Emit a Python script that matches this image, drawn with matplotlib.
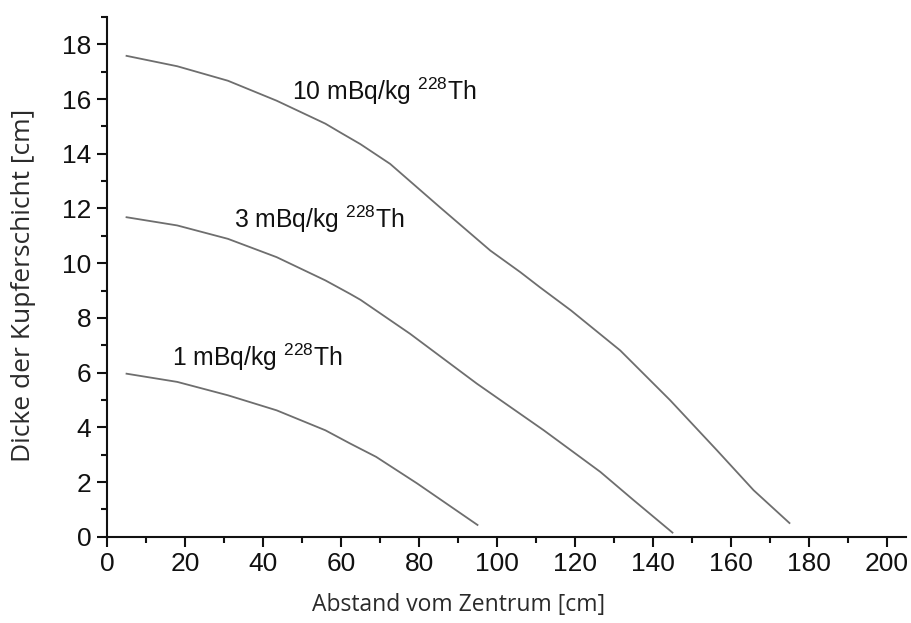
import matplotlib
matplotlib.use('Agg')
import matplotlib.pyplot as plt
from matplotlib.ticker import MultipleLocator

# Kurven: Abstand [cm] -> Dicke der Kupferschicht [cm]
x_10 = [5, 18, 31, 43.5, 56, 59.8, 65, 72.6, 85.4, 98.3, 106, 111, 119, 131.6, 144.4, 156.4, 165.8, 175]
y_10 = [17.58, 17.2, 16.67, 15.94, 15.1, 14.78, 14.35, 13.63, 12.04, 10.46, 9.67, 9.12, 8.27, 6.81, 4.99, 3.16, 1.70, 0.5]

x_3 = [5, 18, 31, 43.5, 56, 62.3, 65, 77.7, 94.8, 112, 126.5, 135, 145]
y_3 = [11.68, 11.38, 10.89, 10.22, 9.37, 8.88, 8.66, 7.42, 5.6, 3.89, 2.37, 1.34, 0.15]

x_1 = [5, 18, 31, 43.5, 56, 62.3, 69, 79.5, 95]
y_1 = [5.96, 5.66, 5.17, 4.62, 3.89, 3.41, 2.92, 1.95, 0.43]

labels = [r'10 mBq/kg $^{228}$Th', r'3 mBq/kg $^{228}$Th', r'1 mBq/kg $^{228}$Th']
label_pos = [(47.5, 16.3), (32.6, 11.6), (16.6, 6.57)]

plt.rcParams['font.family'] = ['Liberation Sans', 'DejaVu Sans']
plt.rcParams['mathtext.fontset'] = 'custom'
plt.rcParams['mathtext.rm'] = 'Liberation Sans'
plt.rcParams['mathtext.it'] = 'Liberation Sans'

fig = plt.figure(figsize=(9.11, 6.23), dpi=100)
ax = fig.add_axes([0.1175, 0.1385, 0.8775, 0.8342])

line_col = '#6e6e6e'
ax.plot(x_10, y_10, color=line_col, lw=1.3)
ax.plot(x_3, y_3, color=line_col, lw=1.3)
ax.plot(x_1, y_1, color=line_col, lw=1.3)

for txt, (tx, ty) in zip(labels, label_pos):
    ax.text(tx, ty, txt, fontsize=17.8, ha='left', va='center', color='#111111')

ax.set_xlim(0, 205)
ax.set_ylim(0, 19)
ax.xaxis.set_major_locator(MultipleLocator(20))
ax.xaxis.set_minor_locator(MultipleLocator(10))
ax.yaxis.set_major_locator(MultipleLocator(2))
ax.yaxis.set_minor_locator(MultipleLocator(1))

for s in ['top', 'right']:
    ax.spines[s].set_visible(False)
for s in ['left', 'bottom']:
    ax.spines[s].set_linewidth(1.5)
    ax.spines[s].set_color('#111111')

ax.tick_params(which='major', direction='out', length=7.2, width=1.5, labelsize=19, pad=4, colors='#111111')
ax.tick_params(which='minor', direction='out', length=4.3, width=1.5, colors='#111111')

ax.set_xlabel('Abstand vom Zentrum [cm]', fontsize=16.5, family='Open Sans', color='#2a2a2a', va='center')
ax.set_ylabel('Dicke der Kupferschicht [cm]', fontsize=19, family='Open Sans', color='#2a2a2a', va='center')
ax.xaxis.set_label_coords(0.44, -0.131)
ax.yaxis.set_label_coords(-0.105, 0.484)

fig.savefig('out.png', dpi=100, facecolor='white')
